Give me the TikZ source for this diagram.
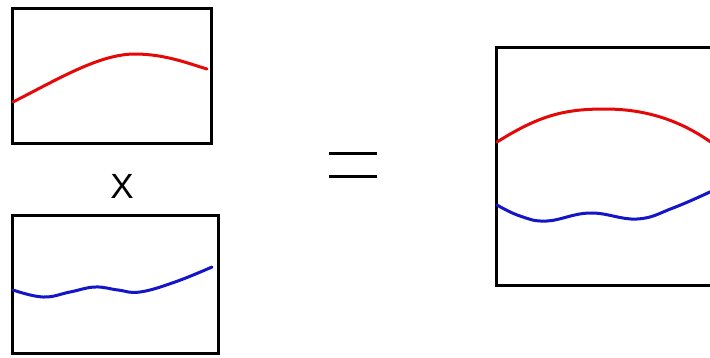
\documentclass[tikz,border=0pt]{standalone}
\usepackage{fontspec}
\setmainfont{Liberation Sans}
\definecolor{cred}{RGB}{228,8,8}
\definecolor{cblue}{RGB}{20,20,200}
\begin{document}
\begin{tikzpicture}[x=1pt,y=-1pt,
  frame/.style={draw=black,line width=3pt,inner sep=0pt,rectangle},
  curve/.style={line width=3pt,line cap=round},
  smoothcurve/.style={curve,smooth,tension=0.7}]
\clip (0,0) rectangle (710,357);
\fill[white] (0,0) rectangle (710,357);
\node[frame,minimum width=199pt,minimum height=135pt] (A) at (111.5,75.5) {};
\node[frame,minimum width=206pt,minimum height=138pt] (B) at (115,284.5) {};
\node[frame,minimum width=230pt,minimum height=238pt] (C) at (611,166) {};
\node[font=\fontsize{35}{35}\selectfont,inner sep=0pt] (times) at (122,186) {X};
\coordinate (eqc) at (353,164.5);
\draw[line width=3pt] ([xshift=-24pt,yshift=-11.5pt]eqc) -- ([xshift=24pt,yshift=-11.5pt]eqc);
\draw[line width=3pt] ([xshift=-24pt,yshift=11.5pt]eqc) -- ([xshift=24pt,yshift=11.5pt]eqc);
\draw[curve,cred] (13,102) .. controls (60,78) and (100,54) .. (135,54) .. controls (165,54) and (190,64) .. (207,69);
\draw[smoothcurve,cblue] plot coordinates {(13,290) (43,297) (70,292) (95,287) (118,290) (140,292) (175,282) (212,267)};
\draw[curve,cred] (497,142) .. controls (540,115) and (565,109) .. (605,109) .. controls (645,109) and (680,120) .. (712,143);
\draw[smoothcurve,cblue] plot coordinates {(497,205) (520,216) (547,221) (590,213) (637,219) (673,208) (712,191)};
\end{tikzpicture}
\end{document}
